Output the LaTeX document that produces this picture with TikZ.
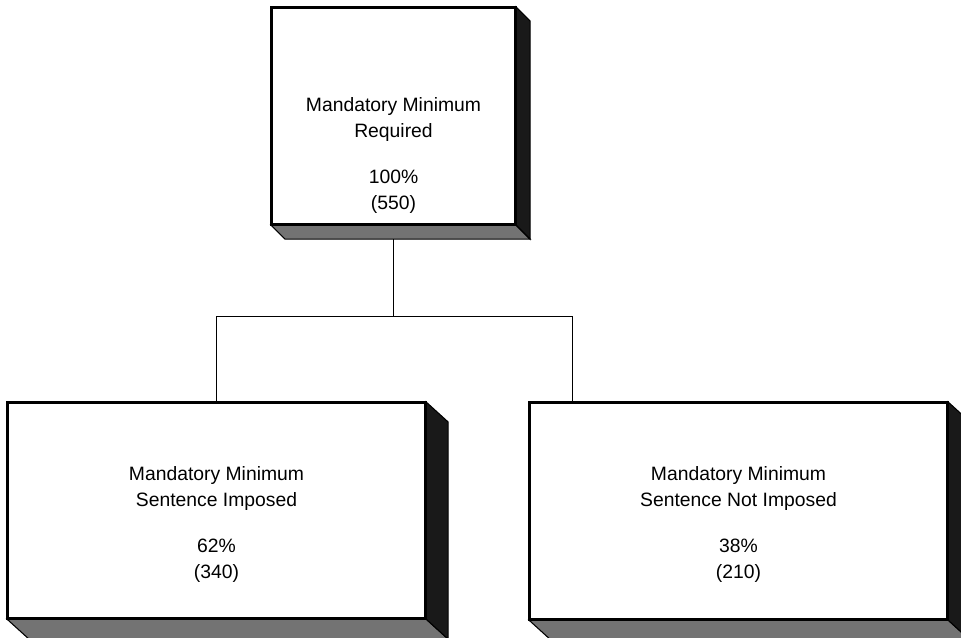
\documentclass[tikz,border=0pt]{standalone}
\usepackage{fontspec}
\setmainfont{Liberation Sans}
\usetikzlibrary{calc}
\begin{document}
\begin{tikzpicture}[x=0.75pt,y=-0.75pt,
  face/.style={draw=black, line width=1.6pt, fill=white, inner sep=0pt},
  txt/.style={align=center, inner sep=0pt, font=\fontsize{14.5}{19.5}\selectfont},
  botface/.style={fill=black!55, draw=black, line width=0.8pt, line join=miter},
  sideface/.style={fill=black!90, draw=black, line width=0.8pt, line join=miter},
  conn/.style={draw=black, line width=0.8pt}]
\useasboundingbox (0,0) rectangle (961,637);

% front faces
\node[face, minimum width=182.25pt, minimum height=162pt] (top) at (393.5,116) {};
\node[face, minimum width=312.75pt, minimum height=161.25pt] (left) at (216.5,510.5) {};
\node[face, minimum width=312.75pt, minimum height=162pt] (right) at (738.5,511) {};

% texts
\node[txt] (toptxt) at (393.5,155) {Mandatory Minimum\\Required\\[15pt]100\%\\(550)};
\node[txt] (lefttxt) at (216.5,524) {Mandatory Minimum\\Sentence Imposed\\[15pt]62\%\\(340)};
\node[txt] (righttxt) at (738.5,524) {Mandatory Minimum\\Sentence Not Imposed\\[15pt]38\%\\(210)};

% connectors
\coordinate (j) at ($(top.south)+(0,91)$);
\coordinate (jl) at (left.north |- j);
\coordinate (rt) at ($(right.north west)+(44,0)$);
\coordinate (jr) at (rt |- j);
\draw[conn] (top.south) -- (j);
\draw[conn] (jl) -- (jr);
\draw[conn] (jl) -- (left.north);
\draw[conn] (jr) -- (rt);

% 3D faces of top box (depth 14)
\draw[botface] (top.south west) -- (top.south east) -- ++(14,14) -- ($(top.south west)+(14,14)$) -- cycle;
\draw[sideface] (top.north east) -- ++(14,14) -- ($(top.south east)+(14,14)$) -- (top.south east) -- cycle;
% left box
\draw[botface] (left.south west) -- (left.south east) -- ++(22,20) -- ($(left.south west)+(22,20)$) -- cycle;
\draw[sideface] (left.north east) -- ++(22,20) -- ($(left.south east)+(22,20)$) -- (left.south east) -- cycle;
% right box
\draw[botface] (right.south west) -- (right.south east) -- ++(22,20) -- ($(right.south west)+(22,20)$) -- cycle;
\draw[sideface] (right.north east) -- ++(22,20) -- ($(right.south east)+(22,20)$) -- (right.south east) -- cycle;

% redraw front borders on top
\draw[line width=1.6pt] (top.south west) rectangle (top.north east);
\draw[line width=1.6pt] (left.south west) rectangle (left.north east);
\draw[line width=1.6pt] (right.south west) rectangle (right.north east);
\end{tikzpicture}
\end{document}
